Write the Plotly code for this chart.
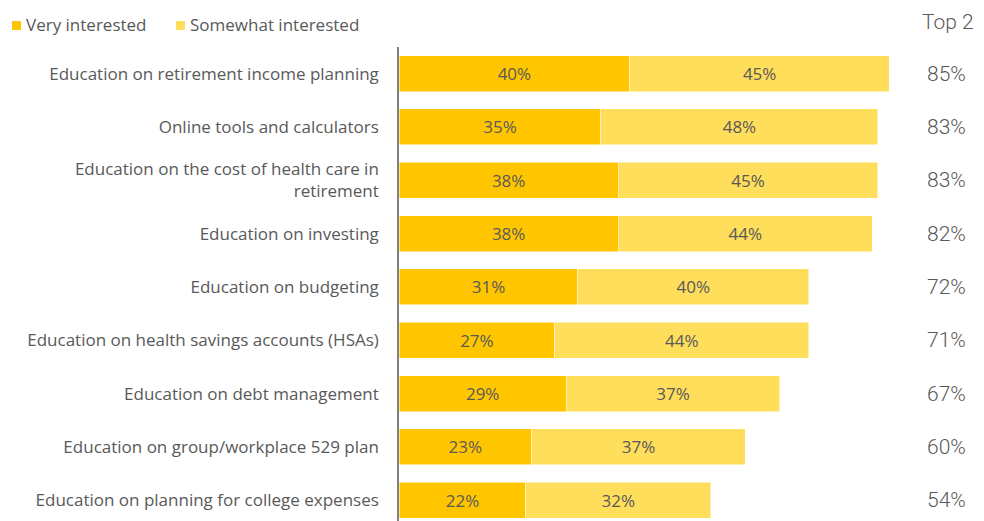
import plotly.graph_objects as go

# Survey items, top to bottom
categories = [
    "Education on retirement income planning",
    "Online tools and calculators",
    "Education on the cost of health care in<br>retirement",
    "Education on investing",
    "Education on budgeting",
    "Education on health savings accounts (HSAs)",
    "Education on debt management",
    "Education on group/workplace 529 plan",
    "Education on planning for college expenses",
]
very_interested = [40, 35, 38, 38, 31, 27, 29, 23, 22]
somewhat_interested = [45, 48, 45, 44, 40, 44, 37, 37, 32]
top2 = [85, 83, 83, 82, 72, 71, 67, 60, 54]

series_names = ["Very interested", "Somewhat interested"]
colors = ["#FFC600", "#FFDE5C"]

TEXT = "#595959"
FONT = "Open Sans"
NARROW = "Roboto"

# plot bottom-to-top so the first item sits at the top
cats = categories[::-1]
fig = go.Figure()
for name, vals, col in zip(series_names, [very_interested, somewhat_interested], colors):
    v = vals[::-1]
    fig.add_trace(go.Bar(
        y=cats, x=v, orientation="h", name=name,
        marker=dict(color=col, line=dict(color="white", width=0.5)),
        text=[f"{x}%" for x in v], textposition="inside",
        insidetextanchor="middle",
        textfont=dict(family=FONT, size=17, color=TEXT),
        width=0.675, showlegend=False, hoverinfo="skip",
    ))

W, H = 984, 521
ML, MR, MT, MB = 399, 8, 47, 0
pw, ph = W - ML - MR, H - MT - MB

def px_x(x):
    return (x - ML) / pw

def px_y(y):
    return (H - MB - y) / ph

annotations = []
shapes = []

# custom legend at top-left
legend_items = [(12, series_names[0], colors[0]), (176, series_names[1], colors[1])]
for x0, name, col in legend_items:
    shapes.append(dict(type="rect", xref="paper", yref="paper",
                       x0=px_x(x0), x1=px_x(x0 + 9), y0=px_y(30), y1=px_y(21),
                       fillcolor=col, line=dict(width=0)))
    annotations.append(dict(text=name, xref="paper", yref="paper",
                            x=px_x(x0 + 12), y=px_y(25), xanchor="left", yanchor="middle",
                            showarrow=False, font=dict(family=FONT, size=17, color=TEXT)))

# Top 2 column
annotations.append(dict(text="Top 2", xref="paper", yref="paper", x=px_x(948), y=px_y(22),
                        xanchor="center", yanchor="middle", showarrow=False,
                        font=dict(family=NARROW, size=21, color=TEXT, weight=300)))
for c, t in zip(categories, top2):
    annotations.append(dict(text=f"{t}%", xref="paper", yref="y", x=px_x(946), y=c,
                            xanchor="center", yanchor="middle", showarrow=False,
                            font=dict(family=NARROW, size=21, color=TEXT, weight=300)))

fig.update_layout(
    barmode="stack",
    width=W, height=H,
    margin=dict(l=ML, r=MR, t=MT, b=MB, pad=0),
    plot_bgcolor="white", paper_bgcolor="white",
    bargap=0.325,
    xaxis=dict(range=[0, 100], showgrid=False, zeroline=False, showticklabels=False,
               showline=False, fixedrange=True),
    yaxis=dict(categoryorder="array", categoryarray=cats, range=[-0.39, 8.5],
               showgrid=False, zeroline=False, showline=True, linecolor="#808080",
               linewidth=1.5, ticks="", ticklabelstandoff=15,
               tickfont=dict(family=FONT, size=17, color=TEXT), fixedrange=True),
    annotations=annotations,
    shapes=shapes,
    showlegend=False,
)

fig.write_html("out.html")
